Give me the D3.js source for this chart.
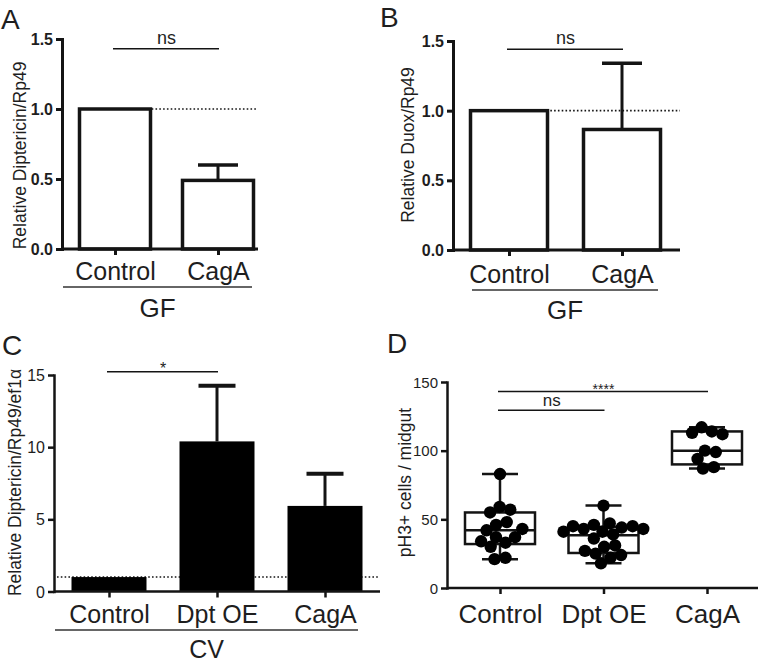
<!DOCTYPE html>
<html><head><meta charset="utf-8">
<script src="https://cdn.jsdelivr.net/npm/d3@7/dist/d3.min.js"></script>
<style>
body{margin:0;background:#fff}
svg{display:block}
text{font-family:"Liberation Sans",Arial,Helvetica,sans-serif;fill:#1e1e1e}
</style>
</head><body>
<svg id="c" width="758" height="662"></svg>
<script>
// ---------------- DATA ----------------
const catsA = ["Control", "CagA"];
const meanA = [1.0, 0.49];
const upperA = [1.0, 0.60];
const ticksA = [0, 0.5, 1.0, 1.5];
const sigA = ["ns", 0, 1, 1.43];

const catsB = ["Control", "CagA"];
const meanB = [1.0, 0.865];
const upperB = [1.0, 1.34];
const ticksB = [0, 0.5, 1.0, 1.5];
const sigB = ["ns", 0, 1, 1.44];

const catsC = ["Control", "Dpt OE", "CagA"];
const meanC = [1.0, 10.4, 5.93];
const upperC = [1.0, 14.25, 8.15];
const ticksC = [0, 5, 10, 15];
const sigC = ["*", 0, 1, 15.23];

const groupLabels = ["GF", "GF", "CV"];

const catsD = ["Control", "Dpt OE", "CagA"];
const pointsControl = [83, 59, 57, 55, 48, 46, 43, 42, 37, 37, 34, 33, 30, 22, 21];
const pointsDptOE = [60, 47, 46, 45, 45, 44, 43, 43, 41, 41, 39, 36, 31, 30, 27, 25, 24, 22, 18];
const pointsCagA = [117, 114, 113, 112, 100, 99, 94, 88, 87];
const boxMin = [21, 18, 87];
const boxQ1 = [32, 25.5, 90];
const boxMedian = [42, 38.5, 100];
const boxQ3 = [55, 44.5, 114];
const boxMax = [83, 60, 117];
const ticksD = [0, 50, 100, 150];
const sigD1 = ["****", 0, 2, 143];
const sigD2 = ["ns", 0, 1, 129.5];

const panelLetters = ["A", "B", "C", "D"];
const yTitles = ["Relative Diptericin/Rp49", "Relative Duox/Rp49", "Relative Diptericin/Rp49/ef1\u03b1", "pH3+ cells / midgut"];

// ---------------- DRAWING ----------------
const svg = d3.select("#c");
const INK = "#141414";

function letter(t, x, y) {
  svg.append("text").attr("x", x).attr("y", y).attr("font-size", 28).text(t);
}

function yTitle(t, x, yc) {
  svg.append("text").attr("transform", `translate(${x},${yc}) rotate(-90)`)
    .attr("text-anchor", "middle").attr("font-size", 17.5).text(t);
}

function styleYAxis(g, o) {
  g.select(".domain").attr("stroke", INK).attr("stroke-width", o.sw).attr("stroke-linecap", "square");
  g.selectAll(".tick line").attr("stroke", INK).attr("stroke-width", o.sw);
  g.selectAll(".tick text").attr("font-size", o.tickFont).attr("font-weight", o.bold ? "bold" : "normal")
    .attr("fill", "#1e1e1e").attr("font-family", '"Liberation Sans",Arial,sans-serif').attr("dy", "0.35em");
}

function xAxis(x, y, o) {
  const g = svg.append("g").attr("transform", `translate(0,${y(0)})`)
    .call(d3.axisBottom(x).tickSize(6).tickSizeOuter(0).tickPadding(0));
  g.select(".domain").remove();
  g.selectAll(".tick line").attr("stroke", INK).attr("stroke-width", o.sw);
  g.selectAll(".tick text").attr("font-size", o.xFont).attr("fill", "#1e1e1e")
    .attr("font-family", '"Liberation Sans",Arial,sans-serif')
    .attr("dy", 0).attr("y", o.xLabelBase);
  svg.append("line").attr("x1", o.axisX).attr("x2", o.axisEnd).attr("y1", y(0)).attr("y2", y(0))
    .attr("stroke", INK).attr("stroke-width", o.sw);
}

function sigBracket(x, y, s, o) {
  const [label, i0, i1, v] = s;
  const cats = x.domain();
  svg.append("line").attr("x1", x(cats[i0]) - 2).attr("x2", x(cats[i1]) + 1)
    .attr("y1", y(v)).attr("y2", y(v)).attr("stroke", INK).attr("stroke-width", 1.5);
  svg.append("text").attr("x", (x(cats[i0]) + x(cats[i1])) / 2).attr("y", y(v) + o.dy)
    .attr("text-anchor", "middle").attr("font-size", o.size).text(label);
}

function barPanel(o) {
  const x = d3.scalePoint().domain(o.cats).range(o.xr);
  const y = d3.scaleLinear().domain(o.yd).range(o.yr);
  svg.append("line").attr("x1", o.dotX0 === undefined ? x(o.cats[0]) - o.barW / 2 : o.dotX0)
    .attr("x2", o.axisEnd).attr("y1", y(1)).attr("y2", y(1))
    .attr("stroke", INK).attr("stroke-width", 1.6).attr("stroke-dasharray", "1.6,2.2");
  const eg = svg.append("g");
  o.mean.forEach((m, i) => {
    if (o.upper[i] <= m) return;
    const cx = x(o.cats[i]);
    eg.append("line").attr("x1", cx).attr("x2", cx).attr("y1", y(m)).attr("y2", y(o.upper[i]))
      .attr("stroke", INK).attr("stroke-width", o.errW);
    eg.append("line").attr("x1", cx - o.capW / 2).attr("x2", cx + o.capW / 2)
      .attr("y1", y(o.upper[i])).attr("y2", y(o.upper[i]))
      .attr("stroke", INK).attr("stroke-width", o.capSW);
  });
  svg.append("g").selectAll("rect").data(o.mean).join("rect")
    .attr("x", (d, i) => x(o.cats[i]) - o.barW / 2)
    .attr("width", o.barW)
    .attr("y", d => y(d))
    .attr("height", d => y(0) - y(d))
    .attr("fill", o.fill)
    .attr("stroke", o.fill === "#000" ? "none" : INK)
    .attr("stroke-width", o.barSW);
  const gy = svg.append("g").attr("transform", `translate(${o.axisX},0)`)
    .call(d3.axisLeft(y).tickValues(o.ticks).tickSize(6).tickSizeOuter(0).tickPadding(3).tickFormat(o.fmt));
  styleYAxis(gy, o);
  xAxis(x, y, o);
  sigBracket(x, y, o.sig, o.sigStyle);
  svg.append("line").attr("x1", o.grp[0]).attr("x2", o.grp[1]).attr("y1", o.grp[2]).attr("y2", o.grp[2])
    .attr("stroke", "#333").attr("stroke-width", 1.6);
  svg.append("text").attr("x", (o.grp[0] + o.grp[1]) / 2).attr("y", o.grp[3])
    .attr("text-anchor", "middle").attr("font-size", o.grpFont).text(o.group);
}

// Panel A
barPanel({cats: catsA, mean: meanA, upper: upperA, ticks: ticksA, sig: sigA, group: groupLabels[0],
  xr: [115, 218], yd: [0, 1.5], yr: [249, 39], axisX: 62, axisEnd: 258, barW: 71, fill: "#fff", barSW: 3.5,
  errW: 3, capW: 40, capSW: 3.5, sw: 3, tickFont: 16, bold: true, fmt: d3.format(".1f"),
  xFont: 25, xLabelBase: 31, grp: [63, 252, 287, 317], grpFont: 26, sigStyle: {dy: -5, size: 18}});
// Panel B
barPanel({cats: catsB, mean: meanB, upper: upperB, ticks: ticksB, sig: sigB, group: groupLabels[1],
  xr: [509, 622], yd: [0, 1.5], yr: [250, 41], axisX: 453, axisEnd: 680, barW: 77, fill: "#fff", barSW: 3.5,
  errW: 3, capW: 40, capSW: 3.5, sw: 3, tickFont: 16, bold: true, fmt: d3.format(".1f"),
  xFont: 25, xLabelBase: 33, grp: [472, 658, 290, 319], grpFont: 26, sigStyle: {dy: -5, size: 18}});
// Panel C
barPanel({cats: catsC, mean: meanC, upper: upperC, ticks: ticksC, sig: sigC, group: groupLabels[2],
  xr: [109, 325], yd: [0, 15], yr: [591.5, 375], axisX: 54, axisEnd: 380, barW: 75, fill: "#000", barSW: 0,
  dotX0: 57, errW: 3, capW: 37, capSW: 4, sw: 2.5, tickFont: 16, bold: false, fmt: d3.format("d"),
  xFont: 25, xLabelBase: 31, grp: [55, 358, 630, 658], grpFont: 25, sigStyle: {dy: 2.5, size: 16}});

// Panel D
(function () {
  const x = d3.scalePoint().domain(catsD).range([500, 707]);
  const y = d3.scaleLinear().domain([0, 150]).range([588, 382]);
  const boxW = 70, capW = 36, sw = 2.5;
  const bg = svg.append("g");
  catsD.forEach((c, i) => {
    const cx = x(c);
    bg.append("line").attr("x1", cx).attr("x2", cx).attr("y1", y(boxMax[i])).attr("y2", y(boxMin[i]))
      .attr("stroke", INK).attr("stroke-width", sw);
    [boxMax[i], boxMin[i]].forEach(v => bg.append("line").attr("x1", cx - capW / 2).attr("x2", cx + capW / 2)
      .attr("y1", y(v)).attr("y2", y(v)).attr("stroke", INK).attr("stroke-width", sw));
    bg.append("rect").attr("x", cx - boxW / 2).attr("width", boxW).attr("y", y(boxQ3[i]))
      .attr("height", y(boxQ1[i]) - y(boxQ3[i])).attr("fill", "#fff").attr("stroke", INK).attr("stroke-width", sw);
    bg.append("line").attr("x1", cx - boxW / 2).attr("x2", cx + boxW / 2).attr("y1", y(boxMedian[i])).attr("y2", y(boxMedian[i]))
      .attr("stroke", INK).attr("stroke-width", sw);
  });
  const groups = [pointsControl, pointsDptOE, pointsCagA];
  const nodes = [];
  groups.forEach((vals, gi) => vals.forEach(v => nodes.push({gi, v, x: x(catsD[gi]), y: y(v), fy: y(v)})));
  const sim = d3.forceSimulation(nodes)
    .force("x", d3.forceX(d => x(catsD[d.gi])).strength(0.1))
    .force("col", d3.forceCollide(5.5).iterations(3))
    .stop();
  for (let k = 0; k < 400; k++) sim.tick();
  svg.append("g").selectAll("circle").data(nodes).join("circle")
    .attr("cx", d => d.x).attr("cy", d => y(d.v)).attr("r", 6.2).attr("fill", "#000");
  const gy = svg.append("g").attr("transform", "translate(447,0)")
    .call(d3.axisLeft(y).tickValues(ticksD).tickSize(6).tickSizeOuter(0).tickPadding(3).tickFormat(d3.format("d")));
  styleYAxis(gy, {sw: 2.5, tickFont: 15, bold: false});
  xAxis(x, y, {sw: 2.5, xFont: 26, xLabelBase: 35, axisX: 447, axisEnd: 758});
  sigBracket(x, y, sigD1, {dy: 2, size: 14});
  sigBracket(x, y, sigD2, {dy: -4, size: 17});
})();

yTitle(yTitles[0], 25.5, 155.5);
yTitle(yTitles[1], 414, 145);
yTitle(yTitles[2], 20.5, 482.5);
yTitle(yTitles[3], 410.5, 482.5);
letter(panelLetters[0], 1, 29);
letter(panelLetters[1], 380, 27);
letter(panelLetters[2], 2, 355);
letter(panelLetters[3], 387, 353);
</script>
</body></html>
